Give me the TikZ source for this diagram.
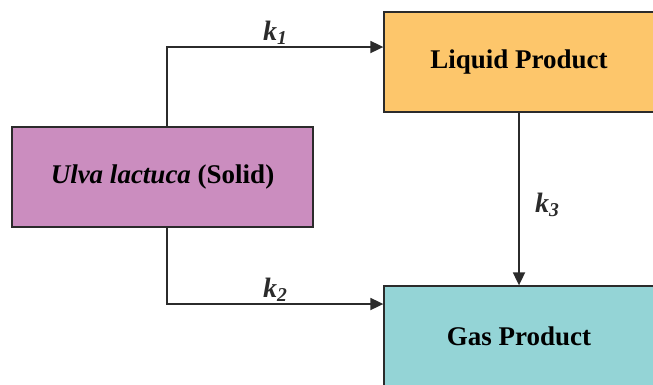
\documentclass[tikz,border=0pt]{standalone}
\usepackage{fontspec}
\setmainfont{Liberation Serif}
\usetikzlibrary{arrows.meta,calc,positioning}
\definecolor{SolidPink}{HTML}{CB8DBF}
\definecolor{LiquidOrange}{HTML}{FDC66B}
\definecolor{GasTeal}{HTML}{94D4D6}
\definecolor{EdgeDark}{HTML}{2B2B2B}
\tikzset{every node/.style={font=\fontsize{27}{30}\selectfont\bfseries},
  phasebox/.style={draw=EdgeDark,line width=1.3pt,minimum height=100pt,inner sep=0pt},
  rate/.style={-{Triangle[length=13pt,width=12pt]},line width=1.8pt,EdgeDark},
  ratelabel/.style={font=\fontsize{28}{30}\selectfont\bfseries\itshape}}

\begin{document}
\begin{tikzpicture}[x=1pt,y=-1pt]
  \useasboundingbox (0,0) rectangle (653,384);
  % --- the three phases ---
  \node[phasebox,fill=SolidPink,minimum width=301pt] (solid) at (162.5,177)
    {\textit{Ulva lactuca} (Solid)};
  \node[phasebox,fill=LiquidOrange,minimum width=270pt] (liquid) at (519,62)
    {Liquid Product};
  \node[phasebox,fill=GasTeal,minimum width=270pt] (gas) at (519,336)
    {Gas Product};
  % --- bends of the two side routes ---
  \coordinate (upbend) at (167,47);
  \coordinate (lowbend) at (167,304);
  % --- k1: solid -> liquid ---
  \draw[rate] (solid.north -| upbend) -- (upbend) -- (liquid.west |- upbend)
    node[midway,above=-2pt,ratelabel] (k1) {k\textsubscript{1}};
  % --- k2: solid -> gas ---
  \draw[rate] (solid.south -| lowbend) -- (lowbend) -- (gas.west |- lowbend)
    node[midway,above=-2pt,ratelabel] (k2) {k\textsubscript{2}};
  % --- k3: liquid -> gas ---
  \draw[rate] (liquid.south) -- (gas.north)
    node[midway,right=12pt,yshift=-6pt,ratelabel] (k3) {k\textsubscript{3}};
\end{tikzpicture}
\end{document}
